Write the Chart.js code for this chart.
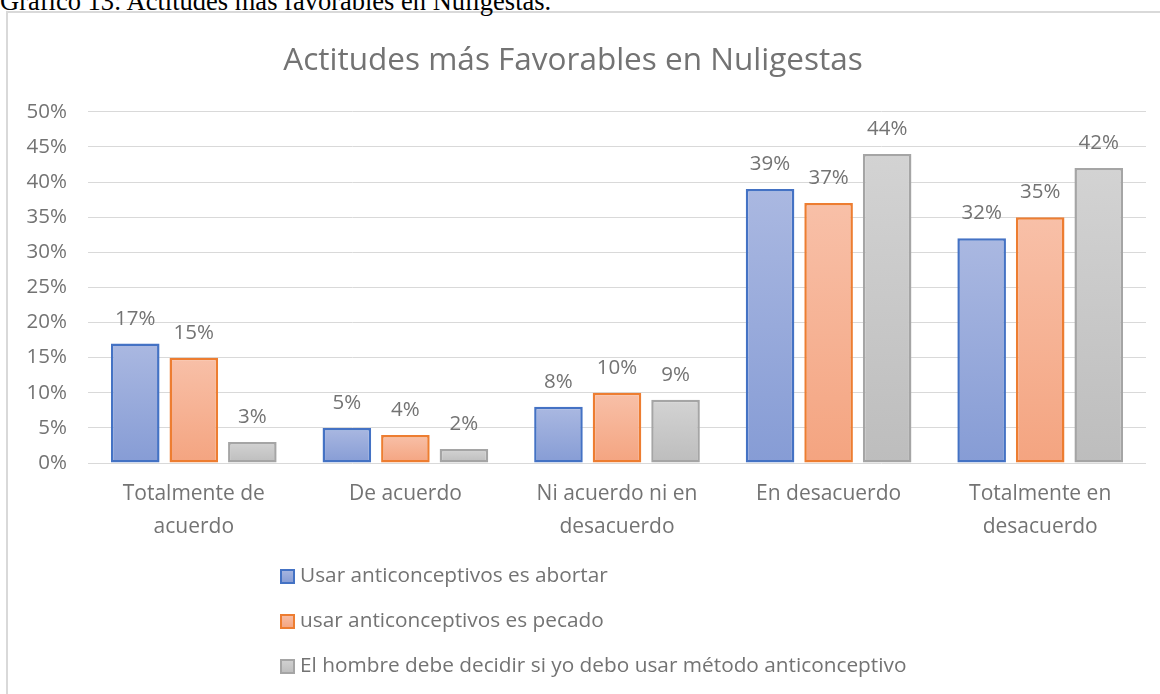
<!DOCTYPE html>
<html>
<head>
<meta charset="utf-8">
<script src="https://cdn.jsdelivr.net/npm/chart.js@4/dist/chart.umd.min.js"></script>
<style>
  html, body { margin: 0; padding: 0; background: #fff; width: 1160px; height: 694px; overflow: hidden; }
  #caption { position: absolute; left: 0; top: -12px; font-family: "Liberation Serif", "Times New Roman", serif; font-size: 26.5px; line-height: 26px; color: #000; white-space: nowrap; z-index: 2; }
  #frame { position: absolute; left: 6px; top: 11px; width: 1300px; height: 900px; border-left: 2px solid #D9D9D9; border-top: 2px solid #D9D9D9; z-index: 1; }
  #wrap { position: absolute; left: 0; top: 0; width: 1160px; height: 694px; z-index: 3; }
</style>
</head>
<body>
<div id="caption">Gráfico 13: Actitudes más favorables en Nuligestas.</div>
<div id="frame"></div>
<div id="wrap"><canvas id="c" width="1160" height="694"></canvas></div>
<script>
const chartTitle = 'Actitudes más Favorables en Nuligestas';
const categories = [['Totalmente de', 'acuerdo'], 'De acuerdo', ['Ni acuerdo ni en', 'desacuerdo'], 'En desacuerdo', ['Totalmente en', 'desacuerdo']];
const seriesNames = ['Usar anticonceptivos es abortar', 'usar anticonceptivos es pecado', 'El hombre debe decidir si yo debo usar método anticonceptivo'];
const abortarValues = [17, 5, 8, 39, 32];
const pecadoValues = [15, 4, 10, 37, 35];
const hombreValues = [3, 2, 9, 44, 42];
const yTickMax = 50;
const yTickStep = 5;

const FONT = '"Open Sans", Lato, sans-serif';
const TEXT = '#737373';

function grad(top, bottom) {
  return (ctx) => {
    const chart = ctx.chart;
    if (!chart.chartArea || ctx.type !== 'data') return bottom;
    const ys = chart.scales.y;
    const v = ctx.parsed ? ctx.parsed.y : ctx.raw;
    const y0 = ys.getPixelForValue(v);
    const y1 = ys.getPixelForValue(0);
    if (!isFinite(y0) || !isFinite(y1) || y0 === y1) return bottom;
    const g = chart.ctx.createLinearGradient(0, y0, 0, y1);
    g.addColorStop(0, top);
    g.addColorStop(1, bottom);
    return g;
  };
}

const palette = [
  { top: '#AAB8E1', bottom: '#869CD5', border: '#4472C4' },
  { top: '#F8C0A8', bottom: '#F4A480', border: '#ED7D31' },
  { top: '#D3D3D3', bottom: '#BDBDBD', border: '#A5A5A5' }
];
const seriesValues = [abortarValues, pecadoValues, hombreValues];

const datasets = seriesNames.map((name, i) => ({
  label: name,
  data: seriesValues[i],
  backgroundColor: grad(palette[i].top, palette[i].bottom),
  borderColor: palette[i].border,
  borderWidth: 2.5,
  borderSkipped: false,
  categoryPercentage: 0.83,
  barPercentage: 0.83
}));

const dataLabels = {
  id: 'dataLabels',
  afterDatasetsDraw(chart) {
    const ctx = chart.ctx;
    ctx.save();
    ctx.font = '20.5px ' + FONT;
    ctx.fillStyle = TEXT;
    ctx.textAlign = 'center';
    ctx.textBaseline = 'alphabetic';
    chart.data.datasets.forEach((ds, di) => {
      chart.getDatasetMeta(di).data.forEach((bar, i) => {
        ctx.fillText(ds.data[i] + '%', bar.x, bar.y - 19);
      });
    });
    ctx.restore();
  }
};

const customLegend = {
  id: 'customLegend',
  afterDraw(chart) {
    const ctx = chart.ctx;
    ctx.save();
    ctx.font = '20.8px ' + FONT;
    ctx.textAlign = 'left';
    ctx.textBaseline = 'middle';
    const x0 = 280, rows = [576, 621, 666];
    chart.data.datasets.forEach((ds, i) => {
      const cy = rows[i];
      const g = ctx.createLinearGradient(0, cy - 7, 0, cy + 7);
      g.addColorStop(0, palette[i].top);
      g.addColorStop(1, palette[i].bottom);
      ctx.fillStyle = g;
      ctx.fillRect(x0 + 1, cy - 6, 13, 13);
      ctx.strokeStyle = palette[i].border;
      ctx.lineWidth = 2;
      ctx.strokeRect(x0 + 1, cy - 6, 13, 13);
      ctx.fillStyle = TEXT;
      ctx.fillText(ds.label, x0 + 20, cy);
    });
    ctx.restore();
  }
};

new Chart(document.getElementById('c'), {
  type: 'bar',
  data: { labels: categories, datasets },
  plugins: [dataLabels, customLegend],
  options: {
    responsive: false,
    animation: false,
    layout: { padding: { left: 0, right: 14, top: 0, bottom: 0 } },
    plugins: {
      legend: { display: false },
      tooltip: { enabled: false },
      title: {
        display: true,
        text: chartTitle,
        color: TEXT,
        font: { family: FONT, size: 31.5, weight: 'normal', lineHeight: 1.2 },
        padding: { top: 42, bottom: 32 }
      }
    },
    scales: {
      x: {
        grid: { display: false, drawTicks: false },
        border: { display: false },
        ticks: { color: TEXT, font: { family: FONT, size: 21, lineHeight: 1.58 }, padding: 14, maxRotation: 0, autoSkip: false },
        afterFit(scale) { scale.height = 231; }
      },
      y: {
        min: 0,
        max: yTickMax,
        grid: { color: '#D9D9D9', lineWidth: 1, drawTicks: false },
        border: { display: false },
        ticks: { stepSize: yTickStep, color: TEXT, font: { family: FONT, size: 20.5 }, padding: 21, callback: (v) => v + '%' },
        afterFit(scale) { scale.width = 88; }
      }
    }
  }
});
</script>
</body>
</html>
